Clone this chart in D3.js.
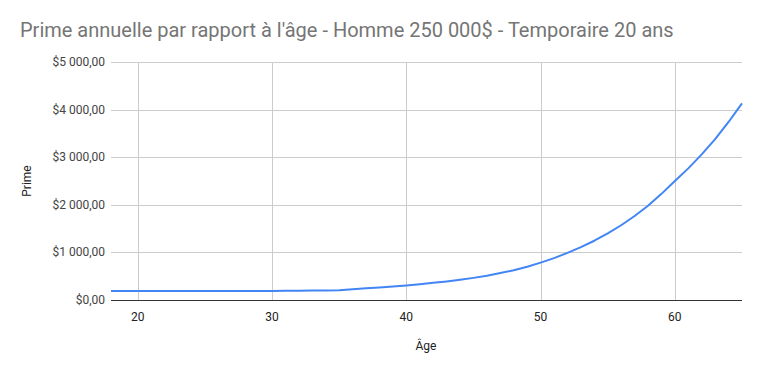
<!DOCTYPE html>
<html>
<head>
<meta charset="utf-8">
<script src="https://cdn.jsdelivr.net/npm/d3@7"></script>
<style>
  body { margin: 0; background: #fff; }
  text { font-family: Roboto, Arial, sans-serif; }
</style>
</head>
<body>
<svg width="761" height="371"></svg>
<script>
let ages = d3.range(18, 66);
let primes = [
  190, 190, 190, 190, 190, 190, 190, 190, 190, 190, 190, 190, 190, // 18-30
  192, 195, 198, 202, 207,        // 31-35
  225, 245, 265, 285, 305,        // 36-40
  330, 360, 390, 425, 465,        // 41-45
  510, 565, 625, 700, 785,        // 46-50
  880, 990, 1110, 1245, 1400,     // 51-55
  1570, 1765, 1980, 2230, 2500,   // 56-60
  2765, 3060, 3380, 3740, 4130    // 61-65
];
let yTicks = [0, 1000, 2000, 3000, 4000, 5000];
let xTicks = [20, 30, 40, 50, 60];

let svg = d3.select("svg");

let locale = d3.formatLocale({ decimal: ",", thousands: " ", grouping: [3], currency: ["$", ""] });
let fmt = locale.format("$,.2f");

let x = d3.scaleLinear().domain([18, 65]).range([111, 742]);
let y = d3.scaleLinear().domain([0, 5000]).range([300, 62]);

// gridlines
svg.append("g")
  .selectAll("line")
  .data(yTicks.slice(1))
  .enter().append("line")
  .attr("x1", x(18)).attr("x2", x(65))
  .attr("y1", d => Math.round(y(d)) + 0.5).attr("y2", d => Math.round(y(d)) + 0.5)
  .attr("stroke", "#cccccc");

svg.append("g")
  .selectAll("line")
  .data(xTicks)
  .enter().append("line")
  .attr("x1", d => Math.round(x(d)) + 0.5).attr("x2", d => Math.round(x(d)) + 0.5)
  .attr("y1", y(5000)).attr("y2", y(0))
  .attr("stroke", "#cccccc");

// y labels
svg.append("g")
  .selectAll("text")
  .data(yTicks)
  .enter().append("text")
  .attr("x", 105)
  .attr("y", d => y(d) + 4)
  .attr("text-anchor", "end")
  .style("font-size", "12px")
  .attr("fill", "#444")
  .text(d => fmt(d));

// x labels
svg.append("g")
  .selectAll("text")
  .data(xTicks)
  .enter().append("text")
  .attr("x", d => x(d))
  .attr("y", 321)
  .attr("text-anchor", "middle")
  .style("font-size", "12px")
  .attr("fill", "#222")
  .text(d => d);

// line
let line = d3.line()
  .x((d, i) => x(ages[i]))
  .y(d => y(d));

svg.append("path")
  .datum(primes)
  .attr("d", line)
  .attr("fill", "none")
  .attr("stroke", "#4285f4")
  .attr("stroke-width", 2)
  .attr("stroke-linejoin", "round");

// baseline
svg.append("line")
  .attr("x1", x(18)).attr("x2", x(65))
  .attr("y1", Math.round(y(0)) + 0.5).attr("y2", Math.round(y(0)) + 0.5)
  .attr("stroke", "#333");

// titles
svg.append("text")
  .attr("x", 20).attr("y", 37)
  .style("font-size", "20px")
  .attr("fill", "#757575")
  .text("Prime annuelle par rapport à l'âge - Homme 250 000$ - Temporaire 20 ans");

svg.append("text")
  .attr("transform", "translate(31,181) rotate(-90)")
  .attr("text-anchor", "middle")
  .style("font-size", "12px")
  .attr("fill", "#222")
  .text("Prime");

svg.append("text")
  .attr("x", 426).attr("y", 350)
  .attr("text-anchor", "middle")
  .style("font-size", "12px")
  .attr("fill", "#222")
  .text("Âge");
</script>
</body>
</html>
